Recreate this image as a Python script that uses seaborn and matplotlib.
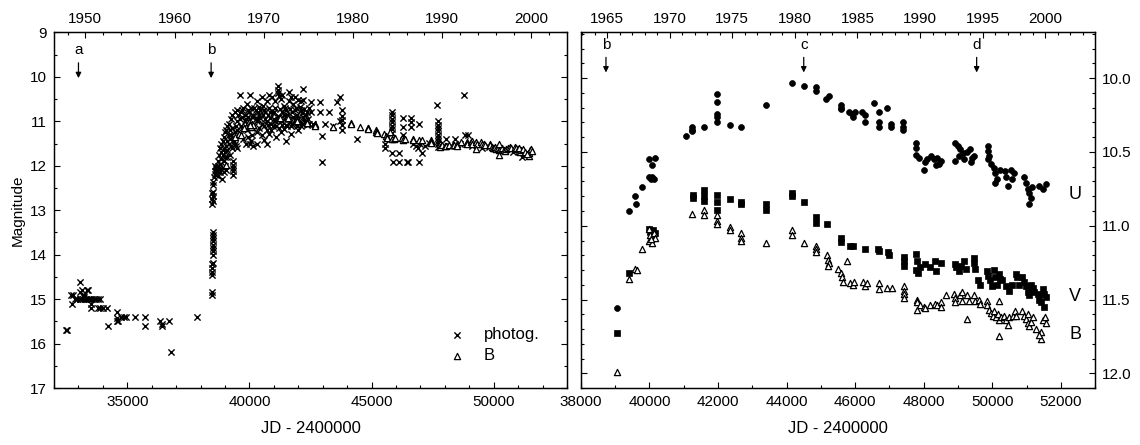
import matplotlib
matplotlib.use("Agg")
import matplotlib.pyplot as plt
import seaborn as sns
import pandas as pd
from matplotlib.ticker import MultipleLocator, FormatStrFormatter

# photographic magnitudes (JD - 2400000, mag)
photog_early = [
    (32480, 15.70), (32530, 15.70),
    (32700, 14.90), (32790, 14.90), (32750, 15.11),
    (33050, 14.61), (33080, 14.85), (33130, 14.80), (33240, 14.90), (33340, 14.80), (33390, 14.80),
    (32860, 15.00), (32950, 15.00), (33050, 15.00), (33120, 15.00), (33180, 15.00), (33250, 15.00),
    (33310, 15.00), (33380, 15.00), (33450, 15.00), (33530, 15.00), (33620, 15.00), (33700, 15.00),
    (33790, 15.00), (33900, 15.00), (33170, 14.93), (33230, 14.95),
    (33500, 15.20), (33530, 15.10), (33790, 15.20), (33900, 15.20), (34000, 15.20), (34170, 15.20),
    (34190, 15.60), (34560, 15.30), (34570, 15.43), (34560, 15.50), (34620, 15.50),
    (34760, 15.40), (34860, 15.40), (34960, 15.40), (35330, 15.40),
    (35730, 15.40), (35730, 15.60),
    (36340, 15.50), (36400, 15.60), (36420, 15.55), (36700, 15.50),
    (36790, 16.20), (37850, 15.40),
]
photog_rise = [
    (38450, 14.84), (38450, 14.91),
    (38470, 14.45), (38480, 14.38), (38480, 14.30), (38470, 14.22), (38490, 14.18),
    (38490, 14.00), (38490, 13.92), (38490, 13.85), (38500, 13.78), (38490, 13.70),
    (38500, 13.62), (38490, 13.55), (38500, 13.49),
    (38470, 12.85), (38500, 12.80), (38480, 12.75), (38500, 12.68), (38470, 12.62),
    (38510, 12.58), (38520, 12.43), (38520, 12.36),
    (38560, 12.25), (38580, 12.18), (38600, 12.12), (38620, 12.08), (38650, 12.03),
    (38600, 12.00), (38700, 12.00), (38720, 12.22), (38680, 12.12), (38760, 12.05), (38860, 12.30),
    (38800, 11.95), (38850, 11.85), (38900, 11.75), (38950, 11.90), (39000, 12.00),
    (39050, 12.10), (38900, 12.05), (38850, 11.70), (38950, 11.62), (39050, 11.55),
    (39080, 11.80), (39000, 11.80),
    (38700, 11.90), (38750, 11.75), (38800, 11.60), (38850, 11.50), (38900, 11.45),
    (38950, 11.35), (39000, 11.25), (39050, 11.20), (39100, 11.10), (38750, 12.10),
    (38800, 12.15), (38650, 12.20), (38950, 12.15), (39000, 11.70), (39100, 11.65),
    (39200, 11.75), (39250, 11.30), (39150, 11.05), (39250, 10.95), (39300, 10.85),
    (39400, 10.80), (39450, 11.10),
]
photog_plateau = [
    (39100, 11.45), (39150, 11.50), (39200, 11.40), (39250, 11.55), (39300, 11.60), (39350, 11.45),
    (39400, 11.50), (39450, 11.55), (39500, 11.60),
    (39340, 11.90), (39340, 11.98), (39340, 12.05), (39340, 12.12), (39340, 12.20),
    (39150, 11.30), (39200, 11.20), (39300, 11.15), (39400, 11.25), (39500, 11.20), (39600, 11.30),
    (39650, 11.10), (39500, 11.00), (39600, 10.95), (39700, 10.90), (39800, 11.00), (39900, 11.05),
    (40000, 11.00), (40100, 10.90), (40200, 11.10), (40300, 11.00),
    (39750, 11.40), (39850, 11.50), (39950, 11.35), (40050, 11.45), (40150, 11.55),
    (40020, 11.50), (40300, 11.52), (40720, 11.50), (40810, 11.29),
    (39490, 10.75), (39700, 10.75), (39940, 10.75), (39600, 10.41), (40040, 10.41),
    (39800, 10.85), (40000, 10.80), (40200, 10.70), (40400, 10.68), (40400, 10.85), (40600, 10.75),
    (40800, 10.70), (40920, 10.45), (40700, 10.55),
    (40500, 11.05), (40600, 11.10), (40700, 11.00), (40900, 11.05), (41000, 10.95), (41100, 11.10),
    (41300, 11.00), (41500, 11.08), (41700, 11.10), (41900, 11.05), (42100, 11.10), (42300, 11.00),
    (41000, 10.80), (41150, 10.20), (41180, 10.30), (41160, 10.37), (41210, 10.43), (41300, 10.50),
    (41400, 10.65), (41500, 10.75), (41600, 10.55), (41700, 10.45), (41800, 10.60), (41900, 10.70),
    (42000, 10.52), (42200, 10.52), (42200, 10.28), (42100, 10.75), (42300, 10.85),
    (41200, 10.90), (41400, 10.85), (41600, 10.95), (41800, 10.90), (42000, 10.95), (42200, 10.90),
    (42400, 10.95),
    (40300, 11.25), (40500, 11.30), (40700, 11.20), (41100, 11.35), (41300, 11.25), (41500, 11.45),
    (40100, 11.15), (40250, 10.95), (40350, 10.80), (40450, 10.92), (40550, 10.85), (40650, 10.95),
    (40750, 10.85), (40850, 10.92), (40950, 10.82), (41050, 11.00), (41150, 10.88), (41250, 10.95),
    (41350, 10.78), (41450, 10.95), (41550, 10.85), (41650, 11.02), (41750, 10.80), (41850, 10.98),
    (41950, 10.85), (42050, 11.02), (42150, 10.82), (42250, 10.96), (42350, 10.78), (42450, 11.05),
    (39550, 10.85), (39650, 10.80), (39750, 10.70), (39850, 10.95), (39950, 10.90), (40050, 10.70),
    (40150, 10.85), (40250, 10.75), (40350, 10.95), (40450, 10.75), (40550, 10.65), (40650, 10.80),
    (40750, 11.08), (40850, 10.78), (40950, 11.10), (41050, 10.70), (41150, 10.98), (41250, 10.72),
    (41350, 11.08), (41450, 10.70), (41550, 11.10), (41650, 10.72), (41750, 11.05), (41850, 10.75),
    (41950, 11.10), (42050, 10.68), (42150, 11.05), (42250, 10.72), (42350, 11.08), (42450, 10.70),
    (39700, 11.15), (39900, 11.20), (40100, 11.30), (40400, 11.15), (40600, 11.42), (40900, 11.20),
    (41200, 11.15), (41400, 11.18), (41700, 11.28), (42000, 11.20),
    (39900, 10.60), (40300, 10.55), (40500, 10.45), (40800, 10.40), (41050, 10.55), (41350, 10.40),
    (41600, 10.35), (41850, 10.45), (42100, 10.55),
    (42500, 10.80), (42900, 10.80), (43250, 10.80), (43580, 10.56), (42500, 10.56), (42900, 10.56),
    (43690, 10.45), (43780, 10.75), (43710, 11.00), (43780, 11.20), (43780, 10.97), (43780, 11.08),
    (43780, 10.88), (42960, 11.32), (42960, 11.92), (42600, 11.05), (43100, 11.05), (43400, 11.10),
]
photog_late = [
    (44410, 11.40), (45550, 11.50), (45550, 11.60),
    (45820, 10.78), (45820, 10.86), (45820, 10.94), (45820, 11.02), (45820, 11.10), (45820, 11.18),
    (45820, 11.27), (45840, 11.72), (46130, 11.72),
    (45860, 11.91), (46130, 11.91), (46440, 11.91), (46490, 11.91), (46950, 11.91),
    (46270, 10.92), (46270, 11.12), (46270, 11.31),
    (46610, 10.92), (46610, 11.02), (46610, 11.12), (46950, 11.05),
    (46700, 11.50), (46800, 11.55), (46900, 11.60), (47000, 11.50), (47200, 11.55), (47350, 11.48),
    (47050, 11.72),
    (47660, 10.63), (47700, 11.00), (47700, 11.08), (47700, 11.15), (47700, 11.22), (47700, 11.30),
    (47700, 11.38), (47700, 11.45), (47700, 11.52), (47700, 11.57),
    (48060, 11.40), (48430, 11.40), (48820, 11.31), (48960, 11.31), (48790, 10.41),
    (48200, 11.55), (48600, 11.50), (49100, 11.55), (49500, 11.60), (49800, 11.58), (50100, 11.62),
    (50400, 11.65), (50470, 11.67), (50800, 11.70), (51140, 11.80), (51300, 11.72),
]

# photoelectric UBV (JD - 2400000, mag)
U_obs = [
    (39040, 11.56), (39400, 10.90), (39570, 10.80), (39620, 10.85), (39770, 10.74),
    (39980, 10.55), (40060, 10.59), (40160, 10.54),
    (39980, 10.67), (40030, 10.68), (40080, 10.67), (40130, 10.68),
    (41060, 10.39), (41230, 10.36), (41230, 10.33), (41250, 10.35), (41585, 10.33),
    (41955, 10.11), (41955, 10.16), (41955, 10.24), (41955, 10.26), (41975, 10.30),
    (42343, 10.32), (42673, 10.33), (43413, 10.18), (44150, 10.03), (44510, 10.05),
    (44870, 10.06), (44870, 10.09), (45150, 10.14), (45225, 10.12),
    (45580, 10.18), (45580, 10.21), (45580, 10.20),
    (45820, 10.23), (45900, 10.24), (46000, 10.23), (45950, 10.26),
    (46210, 10.23), (46300, 10.25), (46280, 10.30), (46550, 10.17),
    (46690, 10.23), (46690, 10.30), (46690, 10.33), (46935, 10.20),
    (47060, 10.31), (47060, 10.33), (47410, 10.30), (47410, 10.33), (47410, 10.35),
    (47785, 10.44), (47785, 10.47), (47785, 10.52), (47850, 10.54), (48010, 10.62),
    (48030, 10.57), (48100, 10.55), (48200, 10.53), (48300, 10.55), (48400, 10.54),
    (48450, 10.58), (48350, 10.59), (48510, 10.56),
    (48900, 10.56), (48900, 10.44), (48990, 10.46), (49070, 10.48), (49040, 10.53),
    (49160, 10.51), (49180, 10.55), (49260, 10.50), (49360, 10.48), (49400, 10.54),
    (49380, 10.57), (49480, 10.53),
    (49870, 10.46), (49870, 10.49), (49900, 10.53), (49870, 10.55), (49960, 10.58),
    (50040, 10.61), (50080, 10.64), (50130, 10.68), (50080, 10.71), (50220, 10.62),
    (50360, 10.63), (50400, 10.67), (50450, 10.73), (50540, 10.62), (50640, 10.64), (50590, 10.68),
    (50940, 10.67), (50990, 10.71), (51030, 10.75), (51080, 10.78), (51130, 10.81),
    (51080, 10.85), (51170, 10.74), (51370, 10.73), (51470, 10.75), (51560, 10.72),
]
V_obs = [
    (39040, 11.73), (39400, 11.32),
    (39980, 11.02), (40020, 11.04), (40060, 11.07), (40160, 11.05), (40110, 11.03),
    (41255, 10.79), (41255, 10.81), (41590, 10.76), (41590, 10.80), (41590, 10.83),
    (41955, 10.79), (41955, 10.84), (41955, 10.89), (42343, 10.82),
    (42673, 10.84), (42673, 10.85), (43413, 10.85), (43413, 10.89),
    (44150, 10.78), (44170, 10.80), (44510, 10.84), (44870, 10.94), (44870, 10.98),
    (45190, 10.99), (45600, 11.08), (45600, 11.11), (45850, 11.14), (45930, 11.14),
    (46280, 11.16), (46660, 11.16), (46700, 11.17), (46960, 11.18), (47000, 11.20),
    (47420, 11.21), (47420, 11.24), (47420, 11.27),
    (47785, 11.19), (47810, 11.24), (47785, 11.30), (47830, 11.32), (47880, 11.28),
    (48030, 11.26), (48170, 11.28), (48320, 11.24), (48370, 11.31), (48510, 11.25),
    (48900, 11.26), (48950, 11.28), (49040, 11.31), (49080, 11.27), (49170, 11.24),
    (49220, 11.29), (49460, 11.22), (49460, 11.25), (49510, 11.29),
    (49580, 11.37), (49630, 11.40),
    (49840, 11.31), (49890, 11.34), (49940, 11.37), (49990, 11.41), (50040, 11.30),
    (50090, 11.35), (50140, 11.40), (50190, 11.33), (50240, 11.36), (50290, 11.37),
    (50390, 11.41), (50490, 11.44), (50580, 11.40), (50680, 11.33), (50730, 11.35), (50780, 11.40),
    (50880, 11.35), (50930, 11.38), (50980, 11.41), (51030, 11.45), (51080, 11.47),
    (51130, 11.40), (51180, 11.42), (51230, 11.45),
    (51320, 11.46), (51370, 11.50), (51420, 11.52), (51470, 11.43), (51520, 11.46),
    (51570, 11.48), (51500, 11.55),
]
B_obs = [
    (39040, 11.99), (39400, 11.36), (39580, 11.29), (39650, 11.30), (39770, 11.16),
    (39980, 11.02), (40020, 11.06), (40000, 11.10), (40060, 11.12), (40120, 11.05),
    (40160, 11.08), (40030, 11.09),
    (41230, 10.92), (41590, 10.89), (41590, 10.93),
    (41955, 10.93), (41955, 10.97), (41955, 10.99),
    (42343, 11.01), (42343, 11.03), (42673, 11.05), (42673, 11.08), (42673, 11.10),
    (43413, 11.12), (44150, 11.03), (44150, 11.06), (44510, 11.12),
    (44870, 11.14), (44870, 11.16), (44870, 11.18),
    (45170, 11.20), (45200, 11.23), (45230, 11.25), (45220, 11.27),
    (45500, 11.29), (45580, 11.32), (45620, 11.35), (45640, 11.38), (45770, 11.24),
    (45850, 11.39), (45930, 11.40), (45960, 11.38),
    (46230, 11.38), (46290, 11.41), (46350, 11.39),
    (46690, 11.39), (46690, 11.43), (46920, 11.42), (47080, 11.42),
    (47420, 11.41), (47420, 11.44), (47420, 11.46), (47420, 11.49),
    (47815, 11.50), (47815, 11.52), (47815, 11.57), (47880, 11.54),
    (48000, 11.55), (48030, 11.56), (48180, 11.54), (48330, 11.53), (48380, 11.54),
    (48510, 11.52), (48510, 11.55),
    (48660, 11.47), (48890, 11.46), (48910, 11.49), (48920, 11.52), (49060, 11.47),
    (49110, 11.45), (49110, 11.51), (49260, 11.47), (49310, 11.51), (49460, 11.47),
    (49510, 11.51), (49610, 11.50), (49650, 11.53), (49270, 11.63),
    (49860, 11.51), (49860, 11.54), (49910, 11.57), (49960, 11.59), (50010, 11.61),
    (50060, 11.58), (50110, 11.62), (50160, 11.60), (50210, 11.64), (50250, 11.62),
    (50350, 11.61), (50400, 11.64), (50450, 11.67), (50500, 11.62), (50600, 11.61),
    (50650, 11.58), (50700, 11.61), (50200, 11.51), (50210, 11.75),
    (50880, 11.58), (50930, 11.61), (50980, 11.63), (51030, 11.66), (51080, 11.68),
    (51130, 11.65), (51030, 11.60), (51180, 11.62), (51280, 11.70), (51430, 11.72),
    (51480, 11.64), (51530, 11.62), (51580, 11.66), (51430, 11.77), (51350, 11.74),
]

# event markers
left_events = [("a", 33000), ("b", 38430)]
right_events = [("b", 38730), ("c", 44500), ("d", 49545)]

left_years = [1950, 1960, 1970, 1980, 1990, 2000]
right_years = [1965, 1970, 1975, 1980, 1985, 1990, 1995, 2000]


def frame(pts):
    return pd.DataFrame(pts, columns=["jd", "mag"])


def year_to_jd(y):
    return 33282.5 + (y - 1950) * 365.25


photog = frame(photog_early + photog_rise + photog_plateau + photog_late)
U = frame(U_obs)
V = frame(V_obs)
B = frame(B_obs)

sns.set_style("ticks")
plt.rcParams["font.family"] = ["Liberation Sans", "DejaVu Sans"]
plt.rcParams["font.size"] = 11
for k in ("axes.edgecolor", "xtick.color", "ytick.color", "text.color", "axes.labelcolor"):
    plt.rcParams[k] = "black"

fig = plt.figure(figsize=(11.4, 4.45), dpi=100)
ax1 = fig.add_axes([0.0474, 0.128, 0.45, 0.799])
ax2 = fig.add_axes([0.5096, 0.128, 0.451, 0.799])

# left panel
sns.scatterplot(data=photog, x="jd", y="mag", marker="x", color="black", s=20,
                linewidth=1.0, ax=ax1, label="photog.")
sns.scatterplot(data=B, x="jd", y="mag", marker="^", color="white", edgecolor="black",
                s=20, linewidth=0.9, ax=ax1, label="B")
ax1.set_xlim(32000, 53000)
ax1.set_ylim(17, 9)
ax1.xaxis.set_major_locator(MultipleLocator(5000))
ax1.xaxis.set_minor_locator(MultipleLocator(1000))
ax1.yaxis.set_major_locator(MultipleLocator(1))
ax1.yaxis.set_minor_locator(MultipleLocator(0.5))
ax1.set_xlabel("JD - 2400000", fontsize=12, labelpad=9)
ax1.set_ylabel("Magnitude", fontsize=11)
ax1.legend(loc="upper left", bbox_to_anchor=(0.74, 0.19), frameon=False, fontsize=12,
           handletextpad=0.6, labelspacing=0.35, borderaxespad=0)

for lab, x in left_events:
    ax1.annotate("", xy=(x, 10.09), xytext=(x, 9.62),
                 arrowprops=dict(arrowstyle="-|>", color="black", lw=0.9, mutation_scale=8))
    ax1.text(x, 9.39, lab, ha="center", va="center", fontsize=11)

# right panel
sns.scatterplot(data=U, x="jd", y="mag", marker="o", color="black", edgecolor="black",
                s=18, linewidth=0.5, ax=ax2)
sns.scatterplot(data=V, x="jd", y="mag", marker="s", color="black", edgecolor="black",
                s=18, linewidth=0.5, ax=ax2)
sns.scatterplot(data=B, x="jd", y="mag", marker="^", color="white", edgecolor="black",
                s=20, linewidth=0.9, ax=ax2)
ax2.set_xlim(38000, 53000)
ax2.set_ylim(12.1, 9.69)
ax2.xaxis.set_major_locator(MultipleLocator(2000))
ax2.xaxis.set_minor_locator(MultipleLocator(1000))
ax2.yaxis.set_major_locator(MultipleLocator(0.5))
ax2.yaxis.set_minor_locator(MultipleLocator(0.1))
ax2.yaxis.set_major_formatter(FormatStrFormatter("%.1f"))
ax2.set_xlabel("JD - 2400000", fontsize=12, labelpad=9)
ax2.set_ylabel("")
for lab, y in [("U", 10.79), ("V", 11.48), ("B", 11.74)]:
    ax2.text(52420, y, lab, ha="center", va="center", fontsize=13)
for lab, x in right_events:
    ax2.annotate("", xy=(x, 9.98), xytext=(x, 9.84),
                 arrowprops=dict(arrowstyle="-|>", color="black", lw=0.9, mutation_scale=8))
    ax2.text(x, 9.775, lab, ha="center", va="center", fontsize=11)

for ax in (ax1, ax2):
    for sp in ax.spines.values():
        sp.set_linewidth(0.9)
        sp.set_visible(True)
    ax.tick_params(which="both", direction="in", top=False, right=True, left=True, width=0.8)
    ax.tick_params(which="major", length=4.5, labelsize=11, pad=5)
    ax.tick_params(which="minor", length=2.5)
ax2.tick_params(axis="y", which="both", labelleft=False, labelright=True)

# year axes on top
for ax, years, minor_step in ((ax1, left_years, 2), (ax2, right_years, 1)):
    top = ax.twiny()
    lo, hi = ax.get_xlim()
    top.set_xticks([year_to_jd(y) for y in years])
    top.set_xticklabels([str(y) for y in years])
    minor = [year_to_jd(y) for y in range(1940, 2010, minor_step)]
    top.set_xticks([m for m in minor if lo <= m <= hi], minor=True)
    top.set_xlim(lo, hi)
    top.tick_params(which="both", direction="in", width=0.8, labelsize=11, pad=5)
    top.tick_params(which="major", length=4.5)
    top.tick_params(which="minor", length=2.5)
    for sp in top.spines.values():
        sp.set_linewidth(0.9)

fig.savefig("out.png", dpi=100)
